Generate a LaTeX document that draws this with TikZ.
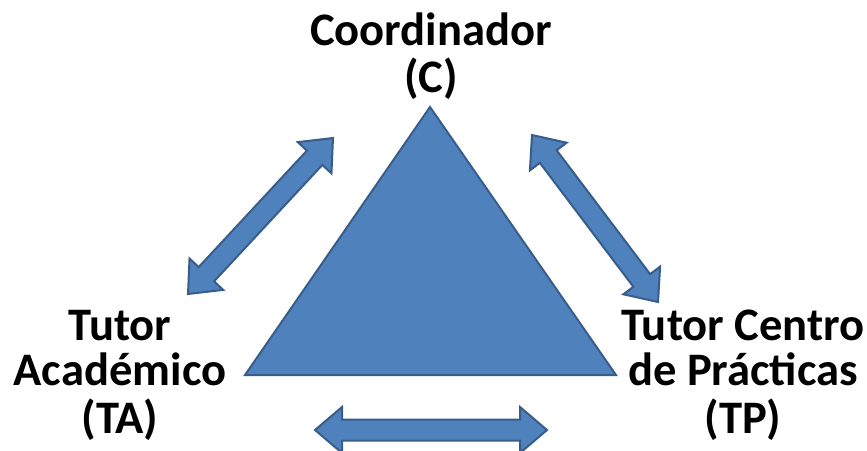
\documentclass[tikz,border=0pt]{standalone}
\usepackage{fontspec}
\setmainfont{Carlito}
\usetikzlibrary{calc}
\definecolor{shapefill}{HTML}{4F81BD}
\definecolor{shapeline}{HTML}{385D8A}
\tikzset{
  shapestyle/.style={fill=shapefill, draw=shapeline, line width=2pt, line join=miter},
  labelstyle/.style={anchor=base, inner sep=0pt, font=\fontsize{46.6}{43}\selectfont\bfseries}
}
\newcommand\dblarrow[2]{%
  \path ($(#1)!27pt!(#2)$) coordinate (hA) ($(#2)!27pt!(#1)$) coordinate (hB);
  \draw[shapestyle] (#1)
    -- ($(hA)!23pt!90:(#2)$) -- ($(hA)!10.5pt!90:(#2)$)
    -- ($(hB)!10.5pt!-90:(#1)$) -- ($(hB)!23pt!-90:(#1)$)
    -- (#2)
    -- ($(hB)!23pt!90:(#1)$) -- ($(hB)!10.5pt!90:(#1)$)
    -- ($(hA)!10.5pt!-90:(#2)$) -- ($(hA)!23pt!-90:(#2)$)
    -- cycle;}
\begin{document}
\begin{tikzpicture}[x=1pt,y=-1pt]
  \useasboundingbox (0,0) rectangle (867,450);
  % triangle
  \coordinate (apex) at (430,107);
  \coordinate (bl) at (245,375);
  \coordinate (br) at (616,375);
  \draw[shapestyle] (apex) -- (bl) -- (br) -- cycle;
  % arrow ends
  \coordinate (lA) at (188,294);
  \coordinate (lB) at (333,138);
  \coordinate (rA) at (532,135);
  \coordinate (rB) at (658,302);
  \coordinate (bA) at (315,430);
  \coordinate (bB) at (547,430);
  \dblarrow{lA}{lB}
  \dblarrow{rA}{rB}
  \dblarrow{bA}{bB}
  % labels
  \node[labelstyle] (coord) at (431,45) {\begin{tabular}[t]{@{}c@{}}Coordinador\\(C)\end{tabular}};
  \node[labelstyle] (ta) at (120,340) {\begin{tabular}[t]{@{}c@{}}Tutor\\Académico\\(TA)\end{tabular}};
  \node[labelstyle] (tp) at (743,340) {\begin{tabular}[t]{@{}c@{}}Tutor Centro\\de Prácticas\\(TP)\end{tabular}};
\end{tikzpicture}
\end{document}
